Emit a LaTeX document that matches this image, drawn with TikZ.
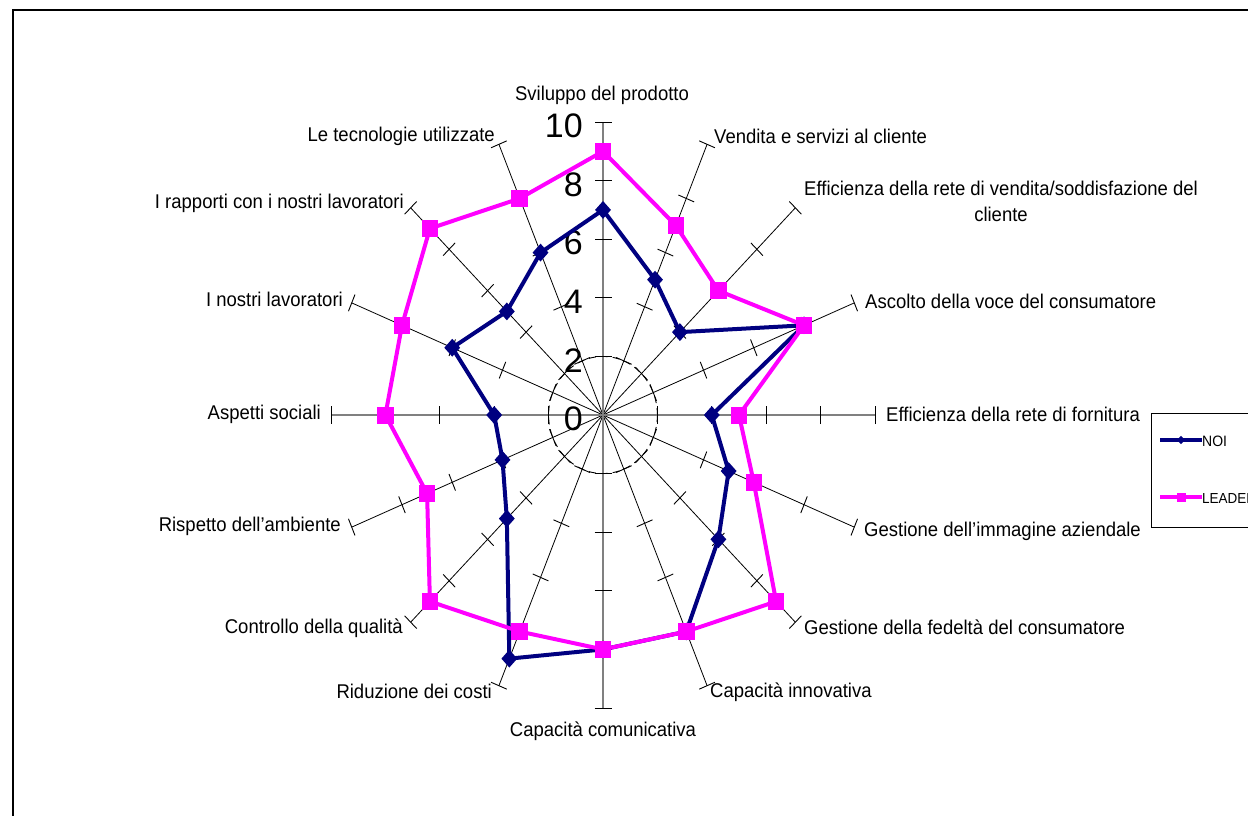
\documentclass[tikz,border=0pt]{standalone}
\usepackage{fontspec}
\setmainfont{Liberation Sans}
\usepackage{graphicx}
\usetikzlibrary{shapes.geometric}
\definecolor{noicol}{RGB}{0,0,128}
\definecolor{leadcol}{RGB}{255,0,255}
\definecolor{axisgray}{RGB}{128,128,128}
\newcommand{\tallbox}[1]{\scalebox{1}[1.075]{#1}}
\begin{document}
\begin{tikzpicture}[x=1pt,y=-1pt,
  spoke/.style={black,line width=0.8pt},
  mainaxis/.style={axisgray,line width=1.3pt},
  tickmark/.style={black,line width=0.9pt},
  ring/.style={black,line width=0.9pt,dash pattern=on 7pt off 5pt},
  catlabel/.style={inner sep=0pt,font=\fontsize{18.5}{26}\selectfont},
  scalelabel/.style={inner sep=0pt,anchor=east,font=\fontsize{34}{36}\selectfont},
  noiline/.style={noicol,line width=4pt,line join=round},
  leadline/.style={leadcol,line width=4pt,line join=round},
  noimark/.style={diamond,fill=noicol,draw=none,inner sep=0pt,minimum width=16pt,minimum height=18pt},
  leadmark/.style={rectangle,fill=leadcol,draw=none,inner sep=0pt,minimum width=16.5pt,minimum height=17pt},
  legbox/.style={draw=black,line width=0.9pt},
  legtext/.style={inner sep=0pt,anchor=west,font=\fontsize{14}{16}\selectfont}]
\useasboundingbox (0,0) rectangle (1248,815);
\clip (0,0) rectangle (1248,815);
\fill[white] (0,0) rectangle (1248,815);
% chart frame
\draw[black,line width=1.8pt] (13,1000) -- (13,10) -- (1300,10);

% centre and spoke ends (value 10)
\coordinate (C) at (603,415);
\foreach \k in {0,...,15}{
  \coordinate (A\k) at ({603+272*sin(\k*22.5)},{415-293*cos(\k*22.5)});
}
% dashed ring at value 2
\draw[ring] (C) ellipse [x radius=54.4pt, y radius=58.6pt];
% spokes
\foreach \k in {1,2,3,5,6,7,9,10,11,13,14,15}{
  \draw[spoke] (C) -- (A\k);
}
\foreach \k in {0,4,8,12}{
  \draw[mainaxis] (C) -- (A\k);
}
% tick marks at 2, 4, 6, 8, 10
\foreach \k in {0,...,15}{
  \foreach \v in {2,4,6,8,10}{
    \draw[tickmark]
      ({603+\v*27.2*sin(\k*22.5)+8.5*cos(\k*22.5)},{415-\v*29.3*cos(\k*22.5)+9*sin(\k*22.5)})
      -- ({603+\v*27.2*sin(\k*22.5)-8.5*cos(\k*22.5)},{415-\v*29.3*cos(\k*22.5)-9*sin(\k*22.5)});
  }
}
% value scale
\foreach \v in {0,2,4,6,8,10}{
  \node[scalelabel] (s\v) at (583,{415-\v*29.3+4}) {\v};
}

% category labels
\node[catlabel,anchor=center] (c0) at (602,95) {\tallbox{Sviluppo del prodotto}};
\node[catlabel,anchor=west] (c1) at (714,136) {\tallbox{Vendita e servizi al cliente}};
\node[catlabel,anchor=center,align=center] (c2) at (1001,201) {\tallbox{Efficienza della rete di vendita/soddisfazione del}\\\tallbox{cliente}};
\node[catlabel,anchor=west] (c3) at (865,301) {\tallbox{Ascolto della voce del consumatore}};
\node[catlabel,anchor=west] (c4) at (886,414) {\tallbox{Efficienza della rete di fornitura}};
\node[catlabel,anchor=west] (c5) at (864,531) {\tallbox{Gestione dell’immagine aziendale}};
\node[catlabel,anchor=west] (c6) at (804,627) {\tallbox{Gestione della fedeltà del consumatore}};
\node[catlabel,anchor=west] (c7) at (710,692) {\tallbox{Capacità innovativa}};
\node[catlabel,anchor=center] (c8) at (603,731) {\tallbox{Capacità comunicativa}};
\node[catlabel,anchor=east] (c9) at (492,691) {\tallbox{Riduzione dei costi}};
\node[catlabel,anchor=east] (c10) at (403,628) {\tallbox{Controllo della qualità}};
\node[catlabel,anchor=east] (c11) at (341,526) {\tallbox{Rispetto dell’ambiente}};
\node[catlabel,anchor=east] (c12) at (321,414) {\tallbox{Aspetti sociali}};
\node[catlabel,anchor=east] (c13) at (343,299) {\tallbox{I nostri lavoratori}};
\node[catlabel,anchor=east] (c14) at (404,203) {\tallbox{I rapporti con i nostri lavoratori}};
\node[catlabel,anchor=east] (c15) at (495,136) {\tallbox{Le tecnologie utilizzate}};

% data points
\foreach \v [count=\i from 0] in {7,5,4,8,4,5,6,8,8,9,5,4,4,6,5,6}{
  \coordinate (N\i) at ({603+\v*27.2*sin(\i*22.5)},{415-\v*29.3*cos(\i*22.5)});
}
\foreach \v [count=\i from 0] in {9,7,6,8,5,6,9,8,8,8,9,7,8,8,9,8}{
  \coordinate (L\i) at ({603+\v*27.2*sin(\i*22.5)},{415-\v*29.3*cos(\i*22.5)});
}
% series NOI
\draw[noiline] (N0) \foreach \i in {1,...,15}{ -- (N\i)} -- cycle;
\foreach \i in {0,...,15}{ \node[noimark] (nm\i) at (N\i) {}; }
% series LEADER
\draw[leadline] (L0) \foreach \i in {1,...,15}{ -- (L\i)} -- cycle;
\foreach \i in {0,...,15}{ \node[leadmark] (lm\i) at (L\i) {}; }

% legend
\draw[legbox] (1151,413) rectangle (1300,527);
\coordinate (ln1a) at (1160,440);
\coordinate (ln1b) at (1202,440);
\draw[noicol,line width=3.5pt] (ln1a) -- (ln1b);
\node[diamond,fill=noicol,inner sep=0pt,minimum width=8.5pt,minimum height=8.5pt] (lgn) at (1181,440) {};
\node[legtext] (lgnt) at (1202,441) {\tallbox{NOI}};
\coordinate (ln2a) at (1160,497);
\coordinate (ln2b) at (1202,497);
\draw[leadcol,line width=3.5pt] (ln2a) -- (ln2b);
\node[rectangle,fill=leadcol,inner sep=0pt,minimum width=9pt,minimum height=9pt] (lgl) at (1181,497) {};
\node[legtext,font=\fontsize{13.5}{16}\selectfont] (lglt) at (1202,498) {\tallbox{LEADER}};
\end{tikzpicture}
\end{document}
